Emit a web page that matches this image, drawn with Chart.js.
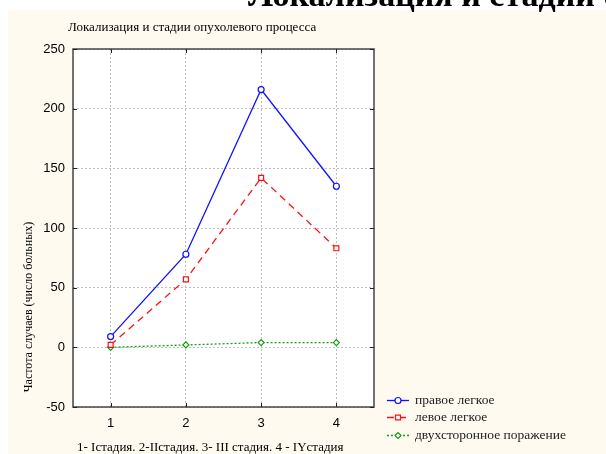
<!DOCTYPE html>
<html>
<head>
<meta charset="utf-8">
<script src="https://cdn.jsdelivr.net/npm/chart.js@4"></script>
<style>
  body { margin: 0; background: #fff; }
  canvas { display: block; }
</style>
</head>
<body>
<canvas id="chart" width="606" height="454"></canvas>
<script>
const stages = ['1', '2', '3', '4'];
const rightLung = [9, 78, 216, 135];
const leftLung = [2, 57, 142, 83];
const bilateral = [0, 2, 4, 4];
const yTicks = [-50, 0, 50, 100, 150, 200, 250];

const cream = '#fefaf0';
const serif = '"Liberation Serif", "Times New Roman", serif';
const sans = '"Liberation Sans", Arial, sans-serif';

const frame = {
    id: 'frame',
    beforeDraw(chart) {
        const ctx = chart.ctx;
        const a = chart.chartArea;
        ctx.save();
        ctx.fillStyle = '#fff';
        ctx.fillRect(0, 0, chart.width, chart.height);
        ctx.fillStyle = cream;
        ctx.fillRect(8, 10, chart.width - 8, chart.height - 10);
        ctx.fillStyle = '#fff';
        ctx.fillRect(a.left, a.top, a.right - a.left, a.bottom - a.top);
        ctx.restore();
    },
    afterDraw(chart) {
        const ctx = chart.ctx;
        const a = chart.chartArea;
        const xs = chart.scales.x;
        const ys = chart.scales.y;
        ctx.save();
        ctx.strokeStyle = '#444';
        ctx.lineWidth = 1.5;
        ctx.strokeRect(a.left, a.top, a.right - a.left, a.bottom - a.top);
        ctx.lineWidth = 1;
        ctx.strokeStyle = '#222';
        ctx.beginPath();
        stages.forEach((s, i) => {
            const x = Math.round(xs.getPixelForValue(i)) + 0.5;
            ctx.moveTo(x, a.top); ctx.lineTo(x, a.top + 4);
            ctx.moveTo(x, a.bottom); ctx.lineTo(x, a.bottom - 4);
        });
        yTicks.forEach(v => {
            const y = Math.round(ys.getPixelForValue(v)) + 0.5;
            ctx.moveTo(a.left, y); ctx.lineTo(a.left + 4, y);
            ctx.moveTo(a.right, y); ctx.lineTo(a.right - 4, y);
        });
        ctx.stroke();

        // texts
        ctx.fillStyle = '#000';
        ctx.textBaseline = 'alphabetic';
        ctx.textAlign = 'left';
        ctx.font = 'bold 34px ' + serif;
        ctx.fillText('Локализация и стадии опухолевого процесса', 248, 6);
        ctx.font = '13px ' + serif;
        ctx.fillText('Локализация и стадии опухолевого процесса', 68, 31);
        ctx.fillText('1- Iстадия. 2-IIстадия. 3- III стадия. 4 - IYстадия', 77, 451);
        ctx.save();
        ctx.translate(32, 307);
        ctx.rotate(-Math.PI / 2);
        ctx.textAlign = 'center';
        ctx.font = '12px ' + serif;
        ctx.fillText('Частота случаев (число больных)', 0, 0);
        ctx.restore();

        // legend
        const rows = [400, 417, 435];
        chart.data.datasets.forEach((ds, i) => {
            const y = rows[i] + 0.5;
            ctx.save();
            ctx.strokeStyle = ds.borderColor;
            ctx.lineWidth = ds.borderWidth;
            ctx.setLineDash(ds.borderDash || []);
            ctx.beginPath();
            ctx.moveTo(387, y); ctx.lineTo(409, y);
            ctx.stroke();
            ctx.setLineDash([]);
            ctx.fillStyle = '#fff';
            ctx.strokeStyle = ds.pointBorderColor;
            ctx.lineWidth = 1.2;
            Chart.helpers.drawPoint(ctx, {
                pointStyle: ds.pointStyle, radius: ds.pointRadius, borderWidth: 1.2, rotation: 0
            }, 398, y);
            ctx.restore();
            ctx.fillStyle = '#222';
            ctx.font = '13.5px ' + serif;
            ctx.textBaseline = 'middle';
            ctx.fillText(ds.label, 415, y);
        });
        ctx.restore();
    }
};

new Chart(document.getElementById('chart'), {
    type: 'line',
    plugins: [frame],
    data: {
        labels: stages,
        datasets: [{
            label: 'правое легкое',
            data: rightLung,
            borderColor: '#1010ff',
            borderWidth: 1.3,
            pointStyle: 'circle',
            pointRadius: 3,
            pointBorderColor: '#1010ff',
            pointBackgroundColor: '#fff',
            pointBorderWidth: 1.2
        }, {
            label: 'левое легкое',
            data: leftLung,
            borderColor: '#ff1010',
            borderWidth: 1.3,
            borderDash: [7, 5],
            pointStyle: 'rect',
            pointRadius: 3.5,
            pointBorderColor: '#ff1010',
            pointBackgroundColor: '#fff',
            pointBorderWidth: 1.2
        }, {
            label: 'двухсторонное поражение',
            data: bilateral,
            borderColor: '#10a010',
            borderWidth: 1.3,
            borderDash: [2, 2],
            pointStyle: 'rectRot',
            pointRadius: 3,
            pointBorderColor: '#10a010',
            pointBackgroundColor: '#fff',
            pointBorderWidth: 1.2
        }]
    },
    options: {
        responsive: false,
        devicePixelRatio: 1,
        animation: false,
        layout: { padding: { top: 49, right: 232, left: 0, bottom: 0 } },
        plugins: { legend: { display: false }, tooltip: { enabled: false } },
        elements: { line: { tension: 0 } },
        scales: {
            x: {
                type: 'category',
                offset: true,
                border: { display: false, dash: [2, 2] },
                grid: { offset: false, color: '#bdbdbd', drawTicks: false, lineWidth: 1 },
                ticks: { color: '#000', font: { family: sans, size: 13 }, padding: 9, maxRotation: 0 },
                afterFit(scale) { scale.height = 47; }
            },
            y: {
                min: -50,
                max: 250,
                border: { display: false, dash: [2, 2] },
                grid: { color: '#bdbdbd', drawTicks: false, lineWidth: 1 },
                ticks: { stepSize: 50, color: '#000', font: { family: sans, size: 13 }, padding: 8 },
                afterBuildTicks(scale) { scale.ticks = yTicks.map(v => ({ value: v })); },
                afterFit(scale) { scale.width = 73; }
            }
        }
    }
});
</script>
</body>
</html>
